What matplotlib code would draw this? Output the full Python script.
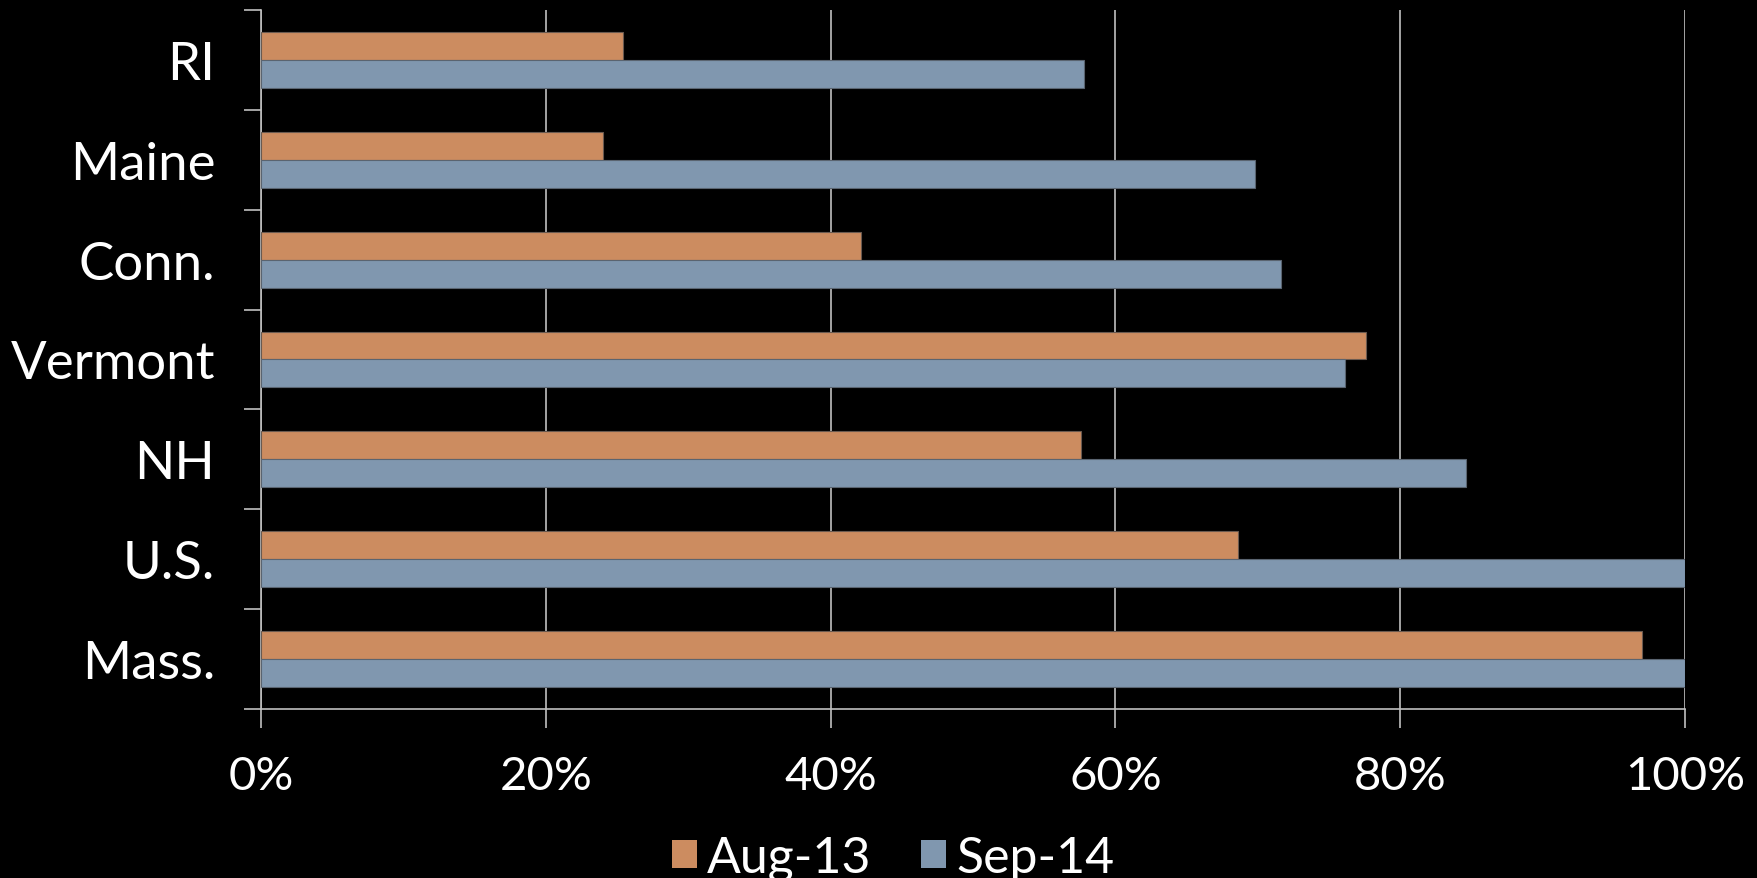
import matplotlib
matplotlib.use("Agg")
import matplotlib.pyplot as plt
import numpy as np
from matplotlib.ticker import FuncFormatter, FixedLocator

categories = ["Mass.", "U.S.", "NH", "Vermont", "Conn.", "Maine", "RI"]
aug13 = [97.0, 68.6, 57.6, 77.6, 42.1, 24.0, 25.4]
sep14 = [100.0, 100.0, 84.6, 76.1, 71.6, 69.8, 57.8]
series_names = ["Aug-13", "Sep-14"]
x_ticks = [0, 20, 40, 60, 80, 100]

plt.rcParams['font.family'] = ['Lato', 'DejaVu Sans']

fig = plt.figure(figsize=(17.58, 8.79), dpi=100, facecolor='black')
ax = fig.add_axes([0.1485, 0.1923, 0.81, 0.7952], facecolor='black')

y = np.arange(len(categories))
h = 0.28
ax.barh(y + h/2, aug13, height=h, color='#CC8C60', edgecolor='#6a5a50', linewidth=0.8,
        label=series_names[0], zorder=3)
ax.barh(y - h/2, sep14, height=h, color='#8097AF', edgecolor='#5a6470', linewidth=0.8,
        label=series_names[1], zorder=3)

ax.set_xlim(0, 100)
ax.set_ylim(-0.5, len(categories) - 0.5)

ax.set_xticks(x_ticks)
ax.xaxis.set_major_formatter(FuncFormatter(lambda v, p: f"{int(v)}%"))
ax.grid(axis='x', color='#BFBFBF', linewidth=1.2, zorder=0)
ax.tick_params(axis='x', colors='#BFBFBF', length=14, width=1.2, pad=19,
               labelsize=34, labelcolor='white')

ax.set_yticks(y)
ax.set_yticklabels(categories)
ax.yaxis.set_minor_locator(FixedLocator(np.arange(-0.5, len(categories), 1.0)))
ax.tick_params(axis='y', which='major', length=0, pad=33, labelsize=38, labelcolor='white')
ax.tick_params(axis='y', which='minor', length=12, width=1.2, color='#BFBFBF')

for s in ['top', 'right']:
    ax.spines[s].set_visible(False)
ax.spines['left'].set_color('#BFBFBF')
ax.spines['left'].set_linewidth(1.2)
ax.spines['bottom'].set_color('#BFBFBF')
ax.spines['bottom'].set_linewidth(1.2)

leg = fig.legend(loc='lower center', bbox_to_anchor=(0.508, -0.055), ncol=2, frameon=False,
                 fontsize=36, handlelength=0.5, handleheight=0.5, handletextpad=0.2,
                 columnspacing=1.0, labelcolor='white')
for p in leg.get_patches():
    p.set_edgecolor('none')

fig.savefig("out.png", dpi=100, facecolor='black')
